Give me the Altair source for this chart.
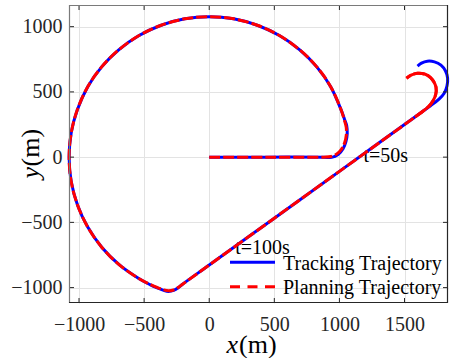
import altair as alt
import pandas as pd

# ---- data (metres) ----
plan_x = [0, 440, 880, 935, 980, 1015, 1040, 1053, 1052, 1039, 1014, 934, 826, 693, 539, 369, 187, 0,
          -187, -369, -539, -693, -826, -934, -1013, -1060, -1076, -1060, -1011, -932, -824, -692, -538,
          -455, -400, -350, -313, -275, -240, -210, 0, 500, 1000, 1580, 1636, 1685, 1718, 1740, 1742, 1725, 1700,
          1660, 1600, 1550, 1515]
plan_y = [0, 0, 0, 5, 25, 60, 110, 170, 230, 280, 360, 538, 692, 824, 932, 1011, 1060, 1076,
          1060, 1011, 932, 824, 692, 538, 363, 187, 0, -187, -368, -538, -692, -824, -932,
          -975, -999, -1017, -1024, -1018, -1000, -978, -827, -468, -109, 307, 348, 388, 430, 482, 535, 577, 610,
          635, 643, 628, 605]

track_x = [0, 440, 880, 940, 990, 1028, 1050, 1060, 1056, 1041, 1014, 934, 826, 693, 539, 369, 187, 0,
           -187, -369, -539, -693, -826, -934, -1013, -1060, -1076, -1060, -1011, -932, -824, -692, -538,
           -455, -400, -350, -313, -273, -238, -210, 0, 500, 1000, 1580, 1636, 1700, 1765, 1805, 1826, 1831, 1815,
           1780, 1730, 1675, 1630, 1600]
track_y = [0, 0, 0, -2, 20, 65, 120, 180, 240, 285, 360, 538, 692, 824, 932, 1011, 1060, 1076,
           1060, 1011, 932, 824, 692, 538, 363, 187, 0, -187, -368, -538, -692, -824, -932,
           -977, -1002, -1021, -1029, -1021, -1001, -978, -827, -468, -109, 307, 348, 394, 445, 490, 545, 605, 660,
           705, 730, 735, 720, 698]

# index in plan_x/plan_y from which the planned path is drawn solid in the picture
plan_split = 43

x_ticks = [-1000, -500, 0, 500, 1000, 1500]
y_ticks = [-1000, -500, 0, 500, 1000]
x_domain = [-1077, 1834]
y_domain = [-1118, 1166]

notes_text = ["t=50s", "t=100s"]
notes_x = [1185, 200]
notes_y = [-41, -743]

legend_labels = ["Tracking Trajectory", "Planning Trajectory"]

# ---- layout / style ----
W, H = 379, 298
FONT = "Liberation Serif"
DARK = "#262626"
BLUE = "#0000ff"
RED = "#ff0000"

plan = pd.DataFrame({"x": plan_x, "y": plan_y, "i": range(len(plan_x))})
plan_tail = plan[plan["i"] >= plan_split]
track = pd.DataFrame({"x": track_x, "y": track_y, "i": range(len(track_x))})
notes = pd.DataFrame({"x": notes_x, "y": notes_y, "t": notes_text})
xt = pd.DataFrame({"x": x_ticks})
yt = pd.DataFrame({"y": y_ticks})
one = pd.DataFrame({"a": [0]})

xs = alt.Scale(domain=x_domain, nice=False, zero=False)
ys = alt.Scale(domain=y_domain, nice=False, zero=False)

AX = alt.Axis(values=x_ticks, grid=True, gridColor="#e3e3e3", gridWidth=1, domain=False, ticks=False,
              tickSize=0, labelFont=FONT, labelFontSize=20, labelColor=DARK, labelPadding=11,
              labelOverlap=False, labelFlush=False, title=None, format="d")
AY = alt.Axis(values=y_ticks, grid=True, gridColor="#e3e3e3", gridWidth=1, domain=False, ticks=False,
              tickSize=0, labelFont=FONT, labelFontSize=20, labelColor=DARK, labelPadding=7,
              labelOverlap=False, title=None, format="d")

X = alt.X("x:Q", scale=xs, axis=AX)
Y = alt.Y("y:Q", scale=ys, axis=AY)

track_line = alt.Chart(track).mark_line(color=BLUE, strokeWidth=3, interpolate="catmull-rom",
                                        strokeJoin="round").encode(x=X, y=Y, order="i:Q")
plan_line = alt.Chart(plan).mark_line(color=RED, strokeWidth=3, strokeDash=[11, 3],
                                      interpolate="catmull-rom", strokeJoin="round").encode(x=X, y=Y, order="i:Q")
plan_tail_line = alt.Chart(plan_tail).mark_line(color=RED, strokeWidth=3, interpolate="catmull-rom",
                                                strokeJoin="round").encode(x=X, y=Y, order="i:Q")

note_marks = alt.Chart(notes).mark_text(align="left", baseline="alphabetic", font=FONT, fontSize=20,
                                        color="black").encode(x=X, y=Y, text="t:N")

# inward ticks on all four sides
tick_b = alt.Chart(xt).mark_rule(color=DARK, strokeWidth=1).encode(x=X, y=alt.value(H), y2=alt.value(H - 5))
tick_t = alt.Chart(xt).mark_rule(color=DARK, strokeWidth=1).encode(x=X, y=alt.value(0), y2=alt.value(5))
tick_l = alt.Chart(yt).mark_rule(color=DARK, strokeWidth=1).encode(y=Y, x=alt.value(0), x2=alt.value(5))
tick_r = alt.Chart(yt).mark_rule(color=DARK, strokeWidth=1).encode(y=Y, x=alt.value(W), x2=alt.value(W - 5))

# box
frame_l = alt.Chart(one).mark_rule(color="#7a7a7a", strokeWidth=1.2).encode(x=alt.value(0.5), y=alt.value(0), y2=alt.value(H))
frame_t = alt.Chart(one).mark_rule(color="#7a7a7a", strokeWidth=1.2).encode(y=alt.value(0.5), x=alt.value(0), x2=alt.value(W))
frame_b = alt.Chart(one).mark_rule(color=DARK, strokeWidth=1.2).encode(y=alt.value(H - 0.5), x=alt.value(0), x2=alt.value(W))
frame_r = alt.Chart(one).mark_rule(color=DARK, strokeWidth=1.2).encode(x=alt.value(W - 0.5), y=alt.value(0), y2=alt.value(H))

# legend (no box, like the reference)
leg_blue = alt.Chart(one).mark_rule(color=BLUE, strokeWidth=3).encode(
    x=alt.value(161), x2=alt.value(206), y=alt.value(257.3))
leg_red = alt.Chart(one).mark_rule(color=RED, strokeWidth=3, strokeDash=[10, 7.5]).encode(
    x=alt.value(161), x2=alt.value(206), y=alt.value(281.7))
leg_t1 = alt.Chart(one).mark_text(align="left", baseline="alphabetic", font=FONT, fontSize=20, color="black",
                                  text=legend_labels[0]).encode(x=alt.value(214), y=alt.value(265))
leg_t2 = alt.Chart(one).mark_text(align="left", baseline="alphabetic", font=FONT, fontSize=20, color="black",
                                  text=legend_labels[1]).encode(x=alt.value(214), y=alt.value(289.3))

# axis titles: italic variable + upright unit
xt_var = alt.Chart(one).mark_text(align="left", baseline="alphabetic", font=FONT, fontSize=26,
                                  fontStyle="italic", color="black", text="x").encode(
    x=alt.value(157.5), y=alt.value(348))
xt_unit = alt.Chart(one).mark_text(align="left", baseline="alphabetic", font=FONT, fontSize=26,
                                   color="black", text="(m)").encode(x=alt.value(170), y=alt.value(348))
yt_var = alt.Chart(one).mark_text(align="left", baseline="alphabetic", font=FONT, fontSize=26,
                                  fontStyle="italic", color="black", text="y", angle=270).encode(
    x=alt.value(-30.5), y=alt.value(173.5))
yt_unit = alt.Chart(one).mark_text(align="left", baseline="alphabetic", font=FONT, fontSize=26,
                                   color="black", text="(m)", angle=270).encode(x=alt.value(-30.5), y=alt.value(161.5))

chart = alt.layer(
    note_marks, track_line, plan_line, plan_tail_line,
    tick_b, tick_t, tick_l, tick_r,
    frame_l, frame_t, frame_b, frame_r,
    leg_blue, leg_red, leg_t1, leg_t2,
    xt_var, xt_unit, yt_var, yt_unit,
).properties(
    width=W, height=H,
    autosize=alt.AutoSizeParams(type="none"),
    padding={"left": 69, "top": 5, "right": 3, "bottom": 55},
    background="white",
).configure_view(stroke=None)

chart.save("out.html", embed_options={"renderer": "svg", "actions": False})
